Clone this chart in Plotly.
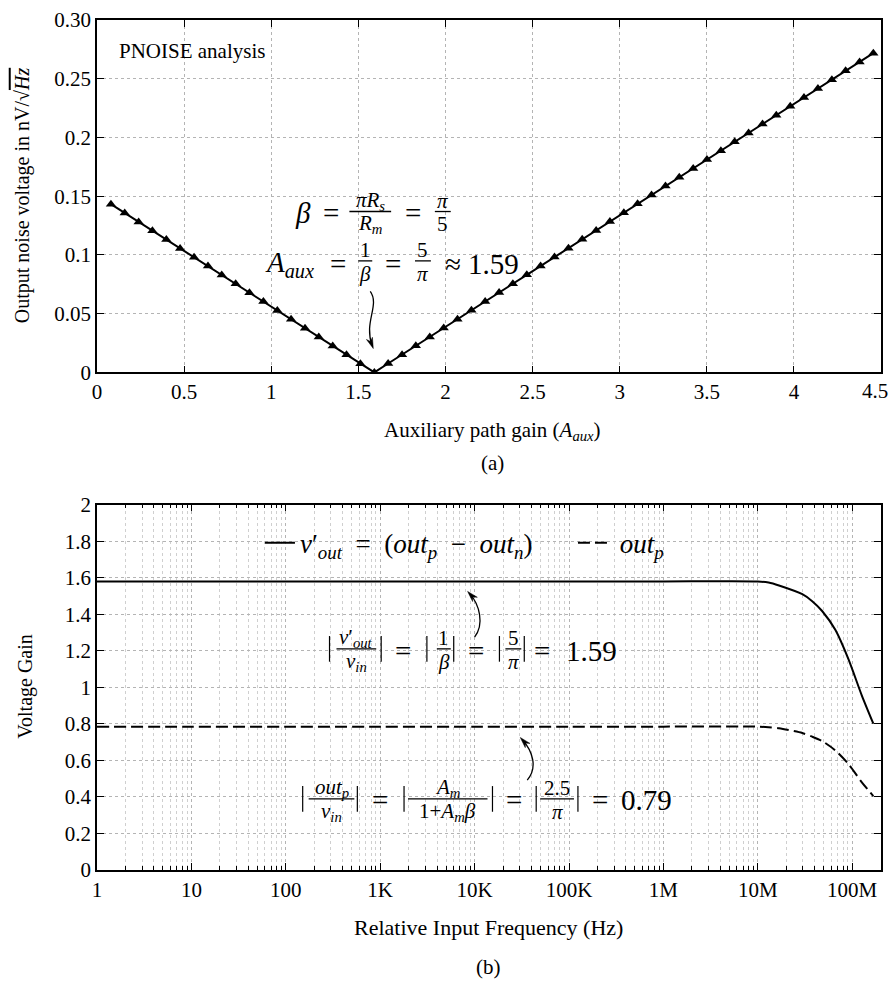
import plotly.graph_objects as go

# ---------------- data: (a) PNOISE analysis ----------------
aux_gain = [0.080, 0.159, 0.239, 0.318, 0.398, 0.477, 0.557, 0.637, 0.716, 0.796,
            0.875, 0.955, 1.035, 1.114, 1.194, 1.273, 1.353, 1.432, 1.512, 1.592,
            1.671, 1.751, 1.830, 1.910, 1.990, 2.069, 2.149, 2.228, 2.308, 2.387,
            2.467, 2.546, 2.626, 2.706, 2.785, 2.865, 2.944, 3.024, 3.103, 3.183,
            3.263, 3.342, 3.422, 3.501, 3.581, 3.660, 3.740, 3.820, 3.899, 3.979,
            4.058, 4.138, 4.218, 4.297, 4.377, 4.456]
noise_nv = [0.1432, 0.1357, 0.1281, 0.1206, 0.1131, 0.1055, 0.0980, 0.0905, 0.0829, 0.0754,
            0.0678, 0.0603, 0.0528, 0.0452, 0.0377, 0.0302, 0.0226, 0.0151, 0.0075, 0.0000,
            0.0076, 0.0151, 0.0227, 0.0302, 0.0378, 0.0453, 0.0529, 0.0604, 0.0680, 0.0755,
            0.0831, 0.0906, 0.0982, 0.1057, 0.1133, 0.1208, 0.1284, 0.1359, 0.1435, 0.1510,
            0.1586, 0.1661, 0.1737, 0.1812, 0.1888, 0.1963, 0.2039, 0.2114, 0.2190, 0.2265,
            0.2341, 0.2416, 0.2492, 0.2567, 0.2643, 0.2718]

a_xticks = [0, 0.5, 1, 1.5, 2, 2.5, 3, 3.5, 4, 4.5]
a_xlabels = ["0", "0.5", "1", "1.5", "2", "2.5", "3", "3.5", "4", ""]
a_last_xlabel = "4.5"
a_yticks = [0, 0.05, 0.10, 0.15, 0.20, 0.25, 0.30]
a_ylabels = ["0", "0.05", "0.1", "0.15", "0.2", "0.25", "0.30"]

# ---------------- data: (b) voltage gain vs frequency ----------------
freq_hz = [1, 10, 100, 1e3, 1e4, 1e5, 1e6, 1e7, 1.3e7, 1.676e7, 2.96e7, 3.77e7,
           4.80e7, 6.62e7, 9.14e7, 1.265e8, 1.675e8]
gain_diff = [1.580, 1.580, 1.580, 1.580, 1.580, 1.580, 1.580, 1.580, 1.574, 1.558,
             1.510, 1.472, 1.418, 1.315, 1.153, 0.955, 0.801]
gain_outp = [0.785, 0.785, 0.785, 0.785, 0.785, 0.785, 0.785, 0.785, 0.782, 0.776,
             0.750, 0.730, 0.706, 0.655, 0.580, 0.480, 0.405]

b_xticks = [1, 10, 100, 1e3, 1e4, 1e5, 1e6, 1e7, 1e8]
b_xlabels = ["1", "10", "100", "1K", "10K", "100K", "1M", "10M", "100M"]
b_yticks = [0, 0.2, 0.4, 0.6, 0.8, 1.0, 1.2, 1.4, 1.6, 1.8, 2.0]
b_ylabels = ["0", "0.2", "0.4", "0.6", "0.8", "1", "1.2", "1.4", "1.6", "1.8", "2"]
b_minor = [m * 10 ** k for k in range(0, 9) for m in range(2, 10)]

# ---------------- layout helpers ----------------
W, H = 894, 986
ML, MR, MT, MB = 97, 8, 9, 116
PW, PH = W - ML - MR, H - MT - MB
SERIF = "Liberation Serif, Times New Roman, serif"
GRID = "#b4b4b4"
SP = "\u2002"


def X(px):
    return (px - ML) / PW


def Y(py):
    return (H - MB - py) / PH


anns = []
shapes = []


def txt(px, py, s, size, xanchor="center", yanchor="middle", angle=0):
    anns.append(dict(x=X(px), y=Y(py), xref="paper", yref="paper", text=s,
                     showarrow=False, xanchor=xanchor, yanchor=yanchor,
                     textangle=angle, borderpad=0,
                     font=dict(family=SERIF, size=size, color="black")))


def hline(x0, x1, py, w=1.3):
    shapes.append(dict(type="line", xref="paper", yref="paper",
                       x0=X(x0), x1=X(x1), y0=Y(py), y1=Y(py),
                       line=dict(color="black", width=w)))


def vbar(px, pyc, half=13, w=1.2):
    shapes.append(dict(type="line", xref="paper", yref="paper",
                       x0=X(px), x1=X(px), y0=Y(pyc - half), y1=Y(pyc + half),
                       line=dict(color="black", width=w)))


def frac(pxc, pybar, num, den, size, half, up=11, down=13):
    txt(pxc, pybar - up, num, size)
    txt(pxc, pybar + down, den, size)
    hline(pxc - half, pxc + half, pybar)


def row(py, pybar, items, ms, fs, up=11, down=13):
    for it in items:
        if it[0] == "t":
            txt(it[1], py, it[2], ms)
        elif it[0] == "|":
            vbar(it[1], pybar)
        else:
            frac(it[1], pybar, it[2], it[3], fs, it[4], up, down)


def curved_arrow(p0, c1, c2, p3, head_len=11, head_half=3.2):
    path = "M {},{} C {},{} {},{} {},{}".format(
        X(p0[0]), Y(p0[1]), X(c1[0]), Y(c1[1]), X(c2[0]), Y(c2[1]), X(p3[0]), Y(p3[1]))
    shapes.append(dict(type="path", xref="paper", yref="paper", path=path,
                       line=dict(color="black", width=1.3)))
    dx, dy = p3[0] - c2[0], p3[1] - c2[1]
    n = (dx * dx + dy * dy) ** 0.5
    ux, uy = dx / n, dy / n
    tip = (p3[0] + ux * 3, p3[1] + uy * 3)
    base = (tip[0] - ux * head_len, tip[1] - uy * head_len)
    notch = (tip[0] - ux * head_len * 0.7, tip[1] - uy * head_len * 0.7)
    px_, py_ = -uy, ux
    a = (base[0] + px_ * head_half, base[1] + py_ * head_half)
    b = (base[0] - px_ * head_half, base[1] - py_ * head_half)
    hp = "M {},{} L {},{} L {},{} L {},{} Z".format(
        X(tip[0]), Y(tip[1]), X(a[0]), Y(a[1]), X(notch[0]), Y(notch[1]), X(b[0]), Y(b[1]))
    shapes.append(dict(type="path", xref="paper", yref="paper", path=hp,
                       fillcolor="black", line=dict(color="black", width=0.5)))


# ---------------- figure ----------------
fig = go.Figure()

fig.add_trace(go.Scatter(
    x=aux_gain, y=noise_nv, xaxis="x", yaxis="y", mode="lines+markers",
    line=dict(color="black", width=2),
    marker=dict(symbol="triangle-up", size=9, color="black"),
    showlegend=False, name="PNOISE"))

fig.add_trace(go.Scatter(
    x=freq_hz, y=gain_diff, xaxis="x2", yaxis="y2", mode="lines",
    line=dict(color="black", width=2, shape="spline", smoothing=0.7),
    name="<i>v</i>′<sub><i>out</i></sub>" + SP + "=" + SP + "(<i>out</i><sub><i>p</i></sub>"
         + SP + "−" + SP + "<i>out</i><sub><i>n</i></sub>)"))

fig.add_trace(go.Scatter(
    x=freq_hz, y=gain_outp, xaxis="x2", yaxis="y2", mode="lines",
    line=dict(color="black", width=2, dash="12px,5px", shape="spline", smoothing=0.7),
    name=" <i>out</i><sub><i>p</i></sub>"))

tickfont = dict(family=SERIF, size=21, color="black")
axis_common = dict(showline=True, linecolor="black", linewidth=1.5, mirror="ticks",
                   ticks="inside", ticklen=7, tickwidth=1, tickcolor="black",
                   showgrid=True, gridcolor=GRID, griddash="dot", gridwidth=1,
                   zeroline=False, tickfont=tickfont, tickmode="array")

top_dom = [Y(366), 1.0]
bot_dom = [0.0, Y(500)]

fig.update_layout(
    width=W, height=H,
    margin=dict(l=ML, r=MR, t=MT, b=MB),
    paper_bgcolor="white", plot_bgcolor="white",
    xaxis=dict(domain=[0, 1], anchor="y", range=[0, 4.5],
               tickvals=a_xticks, ticktext=a_xlabels, **axis_common),
    yaxis=dict(domain=top_dom, anchor="x", range=[0, 0.30],
               tickvals=a_yticks, ticktext=a_ylabels, **axis_common),
    xaxis2=dict(domain=[0, 1], anchor="y2", type="log", range=[0, 8.305],
                tickvals=b_xticks, ticktext=b_xlabels,
                minor=dict(tickvals=b_minor, ticks="inside", ticklen=4,
                           tickcolor="black", showgrid=True, gridcolor="#cfcfcf",
                           griddash="dot", gridwidth=1),
                **axis_common),
    yaxis2=dict(domain=bot_dom, anchor="x2", range=[0, 2.0],
                tickvals=b_yticks, ticktext=b_ylabels, **axis_common),
    legend=dict(orientation="h", x=X(261), y=Y(539), xanchor="left", yanchor="middle",
                bgcolor="rgba(0,0,0,0)", borderwidth=0, entrywidth=268,
                font=dict(family=SERIF, size=27, color="black"), itemwidth=30),
)

# ---- axis titles and captions ----
txt(22, 186, "Output noise voltage in nV/√<span style='text-decoration:overline'><i>Hz</i></span>",
    20, angle=-90)
txt(495, 425, "Auxiliary path gain (<i>A</i><sub><i>aux</i></sub>)", 21)
txt(495, 458, "(a)", 21)
txt(880, 385, a_last_xlabel, 21)
txt(25, 684, "Voltage Gain", 20, angle=-90)
txt(491, 928, "Relative Input Frequency (Hz)", 22)
txt(491, 968, "(b)", 21)
txt(118, 40, "PNOISE analysis", 21, xanchor="left")

# ---- (a) formulas ----
MS, FS = 29, 21
row(204, 203, [
    ("t", 304, "<i>β</i>"), ("t", 332, "="),
    ("f", 372, "<i>πR</i><sub><i>s</i></sub>", "<i>R</i><sub><i>m</i></sub>", 21),
    ("t", 415, "="),
    ("f", 445, "<i>π</i>", "5", 8),
], MS, FS, up=11, down=13)
row(256, 253, [
    ("t", 291, "<i>A</i><sub><i>aux</i></sub>"), ("t", 340, "="),
    ("f", 367, "1", "<i>β</i>", 7),
    ("t", 395, "="),
    ("f", 425, "5", "<i>π</i>", 8),
    ("t", 455, "≈"), ("t", 496, "1.59"),
], MS, FS, up=11, down=13)
curved_arrow((372, 284), (382, 298), (365, 315), (374, 339))

# ---- (b) formulas ----
row(648, 646, [
    ("|", 331),
    ("f", 358, "<i>v</i>′<sub><i>out</i></sub>", "<i>v</i><sub><i>in</i></sub>", 20),
    ("|", 383), ("t", 405, "="), ("|", 429),
    ("f", 446, "1", "<i>β</i>", 7),
    ("|", 456), ("t", 478, "="), ("|", 502),
    ("f", 516, "5", "<i>π</i>", 8),
    ("|", 527), ("t", 545, "="), ("t", 595, "1.59"),
], MS, FS)
curved_arrow((477, 634), (487, 621), (482, 601), (472, 590))

row(799, 798, [
    ("|", 304),
    ("f", 333, "<i>out</i><sub><i>p</i></sub>", "<i>v</i><sub><i>in</i></sub>", 23),
    ("|", 359), ("t", 382, "="), ("|", 406),
    ("f", 450, "<i>A</i><sub><i>m</i></sub>", "1+<i>A</i><sub><i>m</i></sub><i>β</i>", 40),
    ("|", 495), ("t", 517, "="), ("|", 539),
    ("f", 560, "2.5", "<i>π</i>", 17),
    ("|", 581), ("t", 603, "="), ("t", 650, "0.79"),
], MS, FS)
curved_arrow((530, 779), (541, 766), (535, 749), (525, 738))

fig.update_layout(annotations=anns, shapes=shapes)

fig.write_html("out.html")
